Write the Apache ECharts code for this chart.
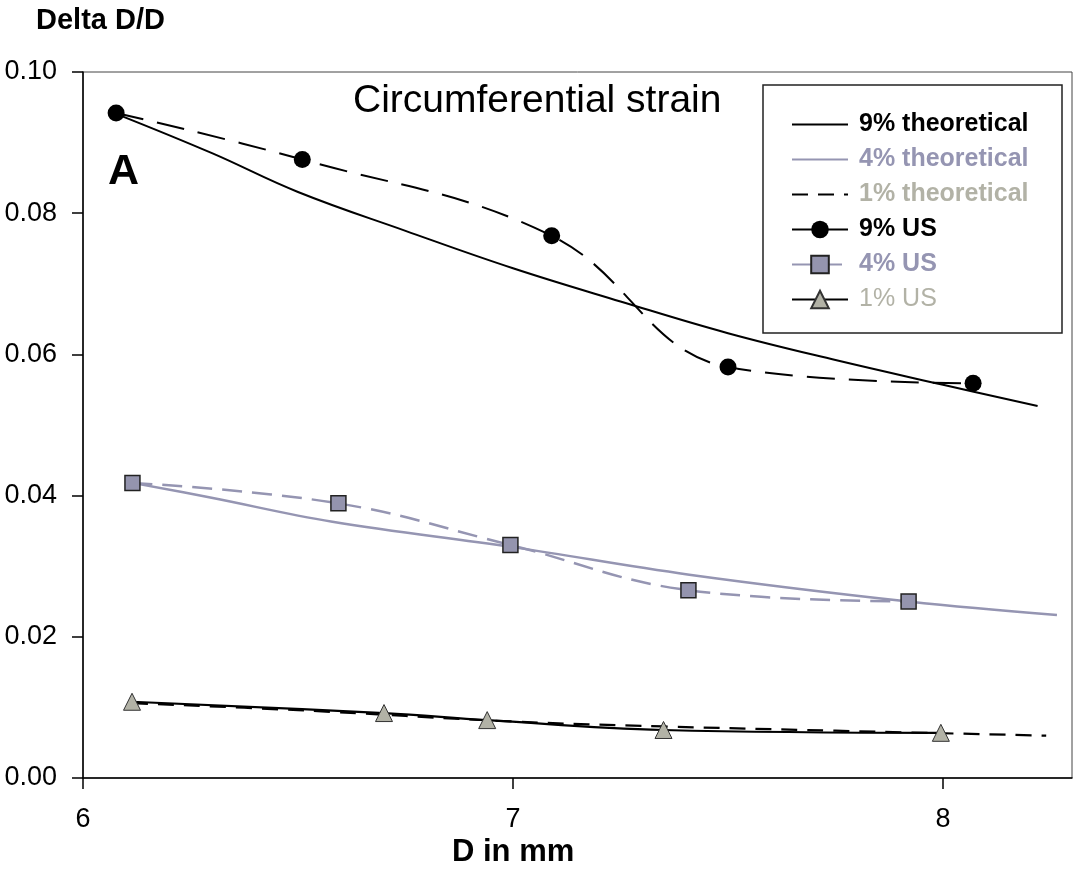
<!DOCTYPE html>
<html>
<head>
<meta charset="utf-8">
<script src="https://cdn.jsdelivr.net/npm/echarts@6/dist/echarts.min.js"></script>
<style>
  html, body { margin: 0; padding: 0; background: #fff; }
  #main { width: 1074px; height: 869px; }
</style>
</head>
<body>
<div id="main"></div>
<script>
// values: [D in mm, delta D/D]
var theo9 = [[6.08, 0.094], [6.3, 0.0885], [6.5, 0.083], [6.75, 0.0775], [7.0, 0.0722],
             [7.25, 0.0675], [7.5, 0.063], [7.75, 0.0592], [8.0, 0.0557], [8.22, 0.0527]];
var theo4 = [[6.115, 0.0418], [6.29, 0.0398], [6.58, 0.0363], [7.0, 0.0327],
             [7.41, 0.0288], [7.92, 0.025], [8.265, 0.0231]];
var theo1 = [[6.114, 0.0106], [6.5, 0.0096], [7.0, 0.008], [7.35, 0.0073],
             [7.75, 0.0067], [8.24, 0.006]];
var us9 = [[6.077, 0.0942], [6.51, 0.0876], [7.09, 0.0768], [7.5, 0.0582], [8.07, 0.0559]];
var us4 = [[6.115, 0.0418], [6.594, 0.0389], [6.994, 0.033], [7.408, 0.0266], [7.92, 0.025]];
var us1 = [[6.114, 0.0108], [6.7, 0.0092], [6.94, 0.0082], [7.35, 0.0068], [7.995, 0.0064]];

var xTicks = [6, 7, 8];
var names = ['9% theoretical', '4% theoretical', '1% theoretical', '9% US', '4% US', '1% US'];

var FONT = '"Liberation Sans", Arial, sans-serif';
var blue = '#9595b2';
var beige = '#b2b2a6';
var noMark = { opacity: 0 };

var chart = echarts.init(document.getElementById('main'));
var option = {
    animation: false,
    backgroundColor: '#fff',
    grid: { left: 83, right: 2, top: 72, bottom: 91, show: true, borderColor: '#444', borderWidth: 1 },
    xAxis: {
        type: 'value', min: 6, max: 8.3,
        axisLine: { lineStyle: { color: '#000', width: 1.5 } },
        axisTick: { length: 11, customValues: xTicks, lineStyle: { color: '#000', width: 1.5 } },
        axisLabel: { customValues: xTicks, margin: 28, color: '#000', fontSize: 27, fontFamily: FONT },
        splitLine: { show: false }
    },
    yAxis: {
        type: 'value', min: 0, max: 0.1, interval: 0.02,
        axisLine: { show: true, lineStyle: { color: '#000', width: 1.5 } },
        axisTick: { show: true, length: 11, lineStyle: { color: '#000', width: 1.5 } },
        axisLabel: { margin: 26, color: '#000', fontSize: 27, fontFamily: FONT,
            formatter: function (v) { return v.toFixed(2); } },
        splitLine: { show: false }
    },
    legend: {
        orient: 'vertical', left: 786, top: 107,
        itemWidth: 56, itemHeight: 22, itemGap: 10,
        textStyle: { fontFamily: FONT, fontSize: 25, lineHeight: 25, padding: [0, 0, 0, 6] },
        data: [
            { name: names[0], itemStyle: noMark, textStyle: { color: '#000', fontWeight: 'bold' } },
            { name: names[1], itemStyle: noMark, textStyle: { color: blue, fontWeight: 'bold' } },
            { name: names[2], itemStyle: noMark, textStyle: { color: beige, fontWeight: 'bold' } },
            { name: names[3], lineStyle: { type: 'solid' }, textStyle: { color: '#000', fontWeight: 'bold' } },
            { name: names[4], textStyle: { color: blue, fontWeight: 'bold' } },
            { name: names[5], textStyle: { color: beige } }
        ]
    },
    graphic: [
        { type: 'text', left: 36, top: 6, style: { text: 'Delta D/D', font: 'bold 29px ' + FONT, fill: '#000' } },
        { type: 'text', left: 353, top: 82, style: { text: 'Circumferential strain', font: '39px ' + FONT, fill: '#000' } },
        { type: 'text', left: 108, top: 151, style: { text: 'A', font: 'bold 43px ' + FONT, fill: '#000' } },
        { type: 'text', left: 452, top: 837, style: { text: 'D in mm', font: 'bold 31px ' + FONT, fill: '#000' } },
        { type: 'rect', shape: { x: 763, y: 85, width: 299, height: 248 }, z: 1,
          style: { fill: '#fff', stroke: '#222', lineWidth: 1.5 } }
    ],
    series: [
        { name: names[0], type: 'line', data: theo9, smooth: 0.4, symbol: 'none', z: 2,
          lineStyle: { color: '#000', width: 2 }, itemStyle: { color: '#000' } },
        { name: names[1], type: 'line', data: theo4, smooth: 0.4, symbol: 'none', z: 2,
          lineStyle: { color: blue, width: 2.5 }, itemStyle: { color: blue } },
        { name: names[2], type: 'line', data: theo1, smooth: 0.4, symbol: 'none', z: 2,
          lineStyle: { color: '#000', width: 2.2, type: [16, 10] }, itemStyle: { color: '#000' } },
        { name: names[3], type: 'line', data: us9, smooth: 0.4, symbol: 'circle', symbolSize: 17, z: 3,
          lineStyle: { color: '#000', width: 2, type: [28, 14] }, itemStyle: { color: '#000' } },
        { name: names[4], type: 'line', data: us4, smooth: 0.4, symbol: 'rect', symbolSize: 15, z: 3,
          lineStyle: { color: blue, width: 2.5, type: [20, 10] },
          itemStyle: { color: '#9494ae', borderColor: '#222', borderWidth: 1.5 } },
        { name: names[5], type: 'line', data: us1, smooth: 0.4, symbol: 'triangle', symbolSize: 17, z: 3,
          lineStyle: { color: '#000', width: 2.2 },
          itemStyle: { color: beige, borderColor: '#333', borderWidth: 1 } }
    ]
};
chart.setOption(option);
</script>
</body>
</html>
